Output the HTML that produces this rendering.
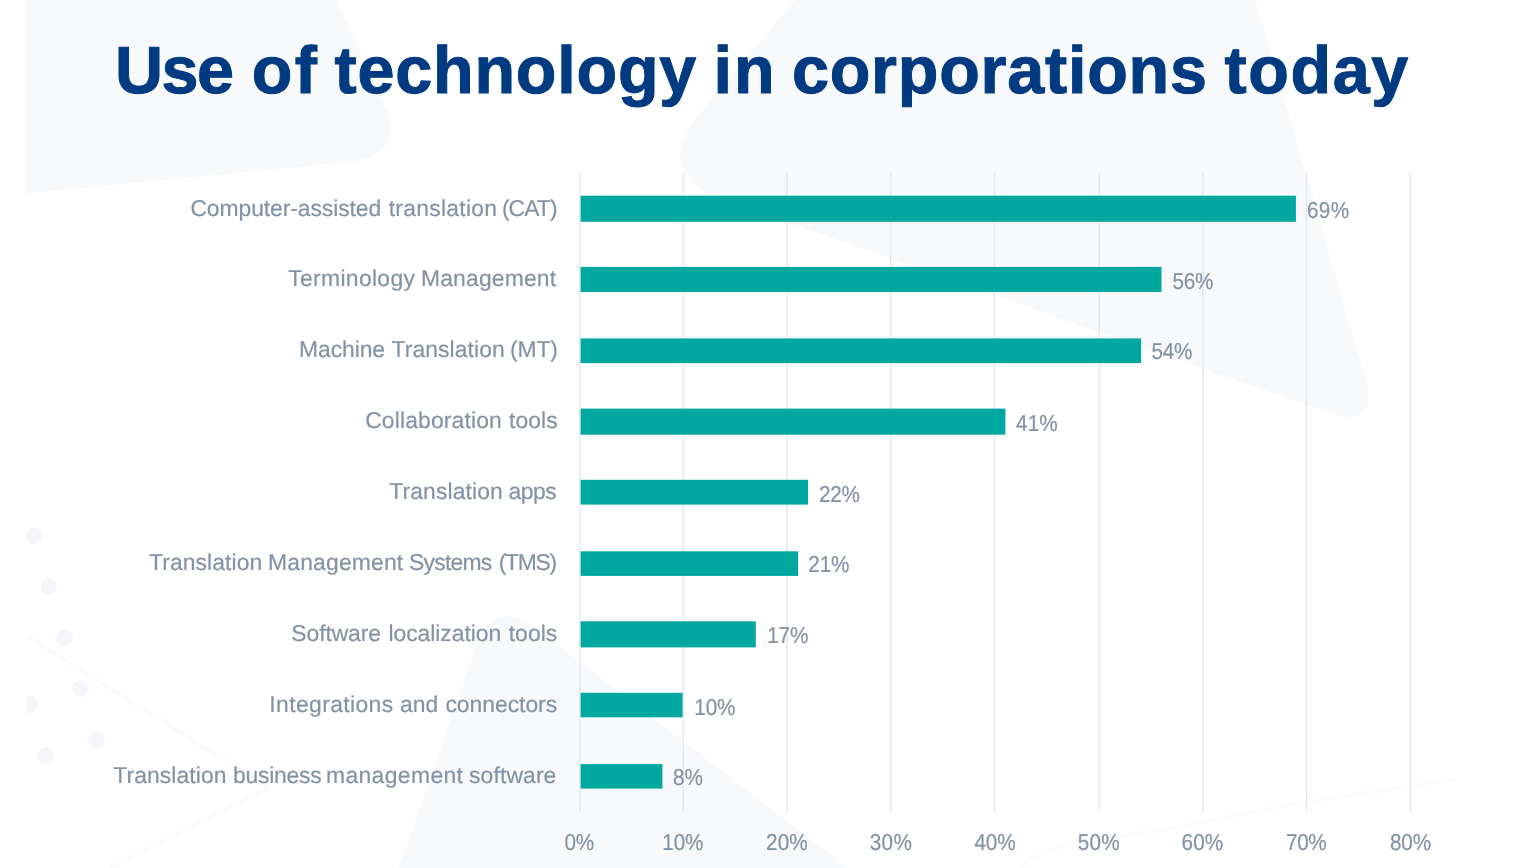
<!DOCTYPE html>
<html lang="en">
<head>
<meta charset="utf-8">
<title>Use of technology in corporations today</title>
<style>
html,body{margin:0;padding:0;background:#fff;}
body{width:1532px;height:868px;overflow:hidden;}
svg{display:block;}
text{font-family:"Liberation Sans",sans-serif;white-space:pre;text-rendering:geometricPrecision;}
.t{font-weight:bold;fill:#003a80;stroke:#003a80;stroke-width:1.0px;stroke-linejoin:miter;}
.l{fill:#8393a7;stroke:#8393a7;stroke-width:0.2px;stroke-linejoin:round;}
</style>
</head>
<body>
<svg width="1532" height="868" viewBox="0 0 1532 868">
<rect width="1532" height="868" fill="#ffffff"/>
<g id="bg" fill="#f8f9fb">
<path d="M26,0 L336.8,0 L383,101.6 Q407.8,156.2 348.1,162 L26,193.4 Z"/>
<path d="M794.8,0 L1255.7,0 L1364.8,376.1 Q1380.7,431 1326.7,412 L726.1,200.6 Q649.1,173.5 701.6,111 Z"/>
<path d="M398.7,868 L475.2,648.1 Q493.6,595.2 538,629.4 L848.4,868 Z"/>
</g>
<g id="dots" fill="#f5f6fa">
<circle cx="33.9" cy="536" r="8.5"/>
<circle cx="48.8" cy="587" r="8.5"/>
<circle cx="64.5" cy="637.8" r="8.5"/>
<circle cx="80.6" cy="688.7" r="8.5"/>
<circle cx="96.7" cy="740" r="8.5"/>
<circle cx="29.7" cy="704.8" r="8.5"/>
<circle cx="45.8" cy="755.7" r="8.5"/>
</g>
<path d="M26,635.6 L269,788 L110,868" fill="none" stroke="#fafbfc" stroke-width="5" stroke-linejoin="round"/>
<path d="M1021,868 Q1032,852 1079,842.7 L1179.4,827 L1304.8,802 L1451,780" fill="none" stroke="#fbfcfd" stroke-width="5" stroke-linecap="round" stroke-linejoin="round"/>
<rect x="0" y="0" width="26" height="868" fill="#ffffff"/>
<g id="grid" fill="#e4e8eb">
<rect x="579.1" y="172.5" width="1.4" height="639.7"/>
<rect x="682.75" y="172.5" width="1.4" height="639.7"/>
<rect x="786.3" y="172.5" width="1.4" height="639.7"/>
<rect x="890.05" y="172.5" width="1.4" height="639.7"/>
<rect x="993.7" y="172.5" width="1.4" height="639.7"/>
<rect x="1098.65" y="172.5" width="1.4" height="639.7"/>
<rect x="1202.2" y="172.5" width="1.4" height="639.7"/>
<rect x="1305.9" y="172.5" width="1.4" height="639.7"/>
<rect x="1409.6" y="172.5" width="1.4" height="639.7"/>
</g>
<g id="bars" fill="#00a8a0">
<rect x="580.6" y="195.7" width="715.3" height="26.1"/>
<rect x="580.6" y="266.9" width="580.9" height="25.1"/>
<rect x="580.6" y="338.4" width="560.5" height="24.7"/>
<rect x="580.6" y="408.6" width="424.8" height="26.1"/>
<rect x="580.6" y="479.8" width="227.55" height="24.8"/>
<rect x="580.6" y="551.3" width="217.5" height="24.6"/>
<rect x="580.6" y="621.3" width="175.2" height="26.1"/>
<rect x="580.6" y="692.8" width="102" height="24.5"/>
<rect x="580.6" y="764.1" width="81.8" height="24.5"/>
</g>
<text id="title" y="93" class="t" font-size="66.5"><tspan x="115.1" letter-spacing="-1.5">Use </tspan><tspan x="251.85" letter-spacing="2.2">of </tspan><tspan x="334.59" letter-spacing="0.78">technology </tspan><tspan x="713.45" letter-spacing="2.2">in </tspan><tspan x="791.89" letter-spacing="0.79">corporations </tspan><tspan x="1224.59" letter-spacing="1.59">today</tspan></text>
<g class="l" font-size="22.9">
<text id="c0" y="216"><tspan x="190.43" letter-spacing="-0.08">Computer-assisted </tspan><tspan x="388.67" letter-spacing="0.27">translation </tspan><tspan x="501.93" letter-spacing="-0.93">(CAT)</tspan></text>
<text id="c1" y="286"><tspan x="288.16" letter-spacing="0.34">Terminology </tspan><tspan x="420.92" letter-spacing="0.18">Management</tspan></text>
<text id="c2" y="357"><tspan x="299" letter-spacing="-0.07">Machine </tspan><tspan x="391.48" letter-spacing="0.09">Translation </tspan><tspan x="510.09" letter-spacing="-0.17">(MT)</tspan></text>
<text id="c3" y="428"><tspan x="365.2" letter-spacing="0.14">Collaboration </tspan><tspan x="508.98" letter-spacing="0.08">tools</tspan></text>
<text id="c4" y="499"><tspan x="389.22" letter-spacing="0.12">Translation </tspan><tspan x="508.6" letter-spacing="-0.52">apps</tspan></text>
<text id="c5" y="570"><tspan x="148.96" letter-spacing="0.09">Translation </tspan><tspan x="268.07" letter-spacing="0.17">Management </tspan><tspan x="409.09" letter-spacing="-0.76">Systems </tspan><tspan x="498.71" letter-spacing="-1.26">(TMS)</tspan></text>
<text id="c6" y="641"><tspan x="291.37" letter-spacing="-0.1">Software </tspan><tspan x="388.42" letter-spacing="-0.04">localization </tspan><tspan x="508.69" letter-spacing="0.07">tools</tspan></text>
<text id="c7" y="712"><tspan x="269.27" letter-spacing="0.39">Integrations </tspan><tspan x="400.03" letter-spacing="0.02">and </tspan><tspan x="445.46" letter-spacing="-0.03">connectors</tspan></text>
<text id="c8" y="783"><tspan x="113.27" letter-spacing="0.08">Translation </tspan><tspan x="233.01" letter-spacing="-0.24">business </tspan><tspan x="325.95" letter-spacing="0.38">management </tspan><tspan x="469.07" letter-spacing="0.11">software</tspan></text>
</g>
<g class="l" font-size="23">
<text id="d0" y="218" transform="scale(0.9 1)"><tspan x="1452.28" letter-spacing="0.33">69%</tspan></text>
<text id="d1" y="289" transform="scale(0.9 1)"><tspan x="1302.77" letter-spacing="-0.32">56%</tspan></text>
<text id="d2" y="359" transform="scale(0.9 1)"><tspan x="1279.58" letter-spacing="-0.31">54%</tspan></text>
<text id="d3" y="431" transform="scale(0.9 1)"><tspan x="1129.01" letter-spacing="0.11">41%</tspan></text>
<text id="d4" y="502" transform="scale(0.9 1)"><tspan x="910.03" letter-spacing="-0.28">22%</tspan></text>
<text id="d5" y="572" transform="scale(0.9 1)"><tspan x="898.18" letter-spacing="-0.16">21%</tspan></text>
<text id="d6" y="643" transform="scale(0.9 1)"><tspan x="852.39" letter-spacing="-0.09">17%</tspan></text>
<text id="d7" y="715" transform="scale(0.9 1)"><tspan x="771.51" letter-spacing="-0.25">10%</tspan></text>
<text id="d8" y="785" transform="scale(0.9 1)"><tspan x="747.82" letter-spacing="-0.14">8%</tspan></text>
<text id="k0" y="850" transform="scale(0.9 1)"><tspan x="627.14" letter-spacing="-0.28">0%</tspan></text>
<text id="k1" y="850" transform="scale(0.9 1)"><tspan x="735.97" letter-spacing="-0.22">10%</tspan></text>
<text id="k2" y="850" transform="scale(0.9 1)"><tspan x="851.14" letter-spacing="0.13">20%</tspan></text>
<text id="k3" y="850" transform="scale(0.9 1)"><tspan x="966.42" letter-spacing="0.33">30%</tspan></text>
<text id="k4" y="850" transform="scale(0.9 1)"><tspan x="1082.67" letter-spacing="-0.11">40%</tspan></text>
<text id="k5" y="850" transform="scale(0.9 1)"><tspan x="1197.49" letter-spacing="0.24">50%</tspan></text>
<text id="k6" y="850" transform="scale(0.9 1)"><tspan x="1312.91" letter-spacing="0.11">60%</tspan></text>
<text id="k7" y="850" transform="scale(0.9 1)"><tspan x="1428.91" letter-spacing="-0.41">70%</tspan></text>
<text id="k8" y="850" transform="scale(0.9 1)"><tspan x="1544.33" letter-spacing="-0.09">80%</tspan></text>
</g>
</svg>
</body>
</html>
